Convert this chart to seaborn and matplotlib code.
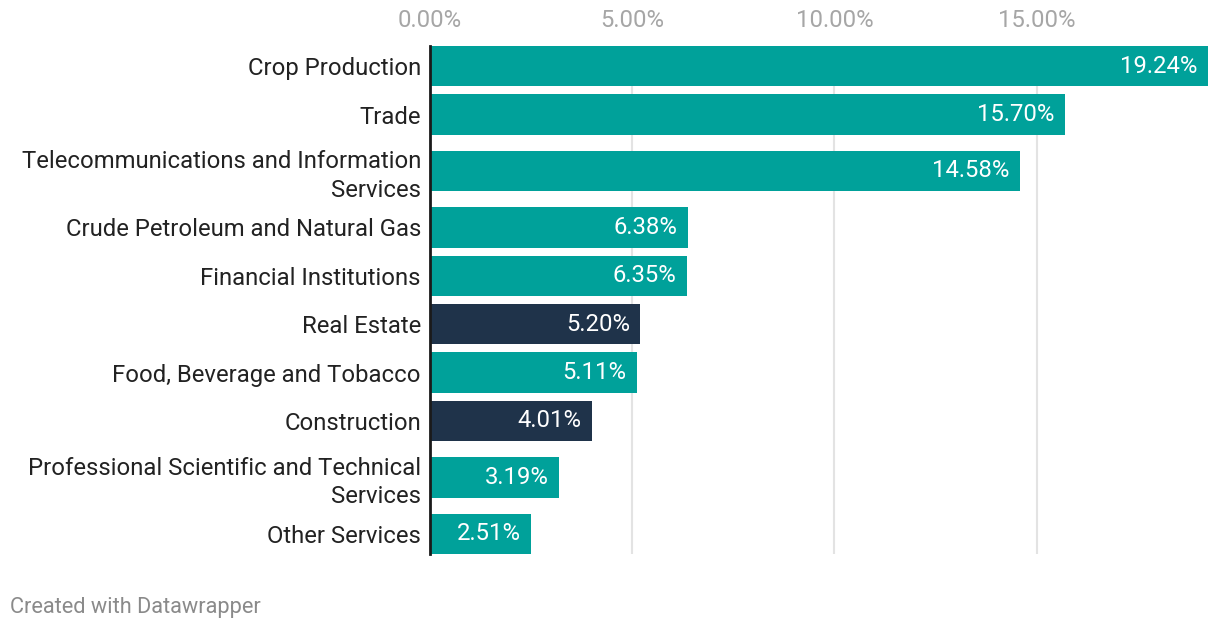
import matplotlib
matplotlib.use("Agg")
import matplotlib.pyplot as plt
import seaborn as sns
import pandas as pd
import numpy as np

categories = ["Crop Production", "Trade", "Telecommunications and Information\nServices",
              "Crude Petroleum and Natural Gas", "Financial Institutions", "Real Estate",
              "Food, Beverage and Tobacco", "Construction",
              "Professional Scientific and Technical\nServices", "Other Services"]
values = [19.24, 15.70, 14.58, 6.38, 6.35, 5.20, 5.11, 4.01, 3.19, 2.51]
highlight = [False, False, False, False, False, True, False, True, False, False]
tick_vals = [0, 5, 10, 15]
tick_labels = ["0.00%", "5.00%", "10.00%", "15.00%"]

TEAL = "#00a19a"
NAVY = "#1f334a"

sns.set_theme(style="white")
plt.rcParams['font.family'] = ['Roboto', 'DejaVu Sans']

# row layout: two-line labels get taller rows
heights = [1 + 0.333 * c.count("\n") for c in categories]
edges = np.concatenate([[0], np.cumsum(heights)])
pos = edges[:-1] + np.array(heights) / 2

df = pd.DataFrame({"cat": categories, "val": values, "pos": pos,
                   "grp": ["hi" if h else "lo" for h in highlight]})

fig = plt.figure(figsize=(12.2, 6.3), dpi=100)
ax = fig.add_axes([430 / 1220, 1 - 554 / 630, (1208 - 430) / 1220, (554 - 46) / 630])

sns.barplot(data=df, x="val", y="pos", hue="grp", orient="y", native_scale=True,
            palette={"hi": NAVY, "lo": TEAL}, width=0.833, dodge=False,
            legend=False, ax=ax, saturation=1, linewidth=0, zorder=3)

ax.set_xlim(0, 19.24)
ax.set_ylim(pos[-1] + 0.4167, pos[0] - 0.4167)
ax.set_xticks(tick_vals)
ax.set_xticklabels(tick_labels)
ax.xaxis.tick_top()
ax.tick_params(axis="x", length=0, pad=10, labelsize=17.2, labelcolor="#a6a6a6")
ax.set_yticks(pos)
ax.set_yticklabels(categories, linespacing=1.3)
ax.tick_params(axis="y", length=0, pad=6.5, labelsize=17.2, labelcolor="#222222")
ax.set_xlabel("")
ax.set_ylabel("")
for t in ax.get_yticklabels():
    t.set_horizontalalignment("right")

ax.grid(axis="x", color="#e3e3e3", linewidth=1.5, zorder=0)
ax.grid(axis="y", visible=False)
for s in ["top", "right", "bottom"]:
    ax.spines[s].set_visible(False)
ax.spines["left"].set_color("#1a1a1a")
ax.spines["left"].set_linewidth(2)
ax.spines["left"].set_zorder(5)

for p, v in zip(pos, values):
    ax.annotate(f"{v:.2f}%", xy=(v, p), xytext=(-7.5, 0), textcoords="offset points",
                ha="right", va="center", color="white", fontsize=17.2, zorder=6)

fig.text(10 / 1220, 1 - 607 / 630, "Created with Datawrapper", color="#8a8a8a",
         fontsize=15.7, ha="left", va="center")

fig.savefig("out.png", dpi=100, facecolor="white")
